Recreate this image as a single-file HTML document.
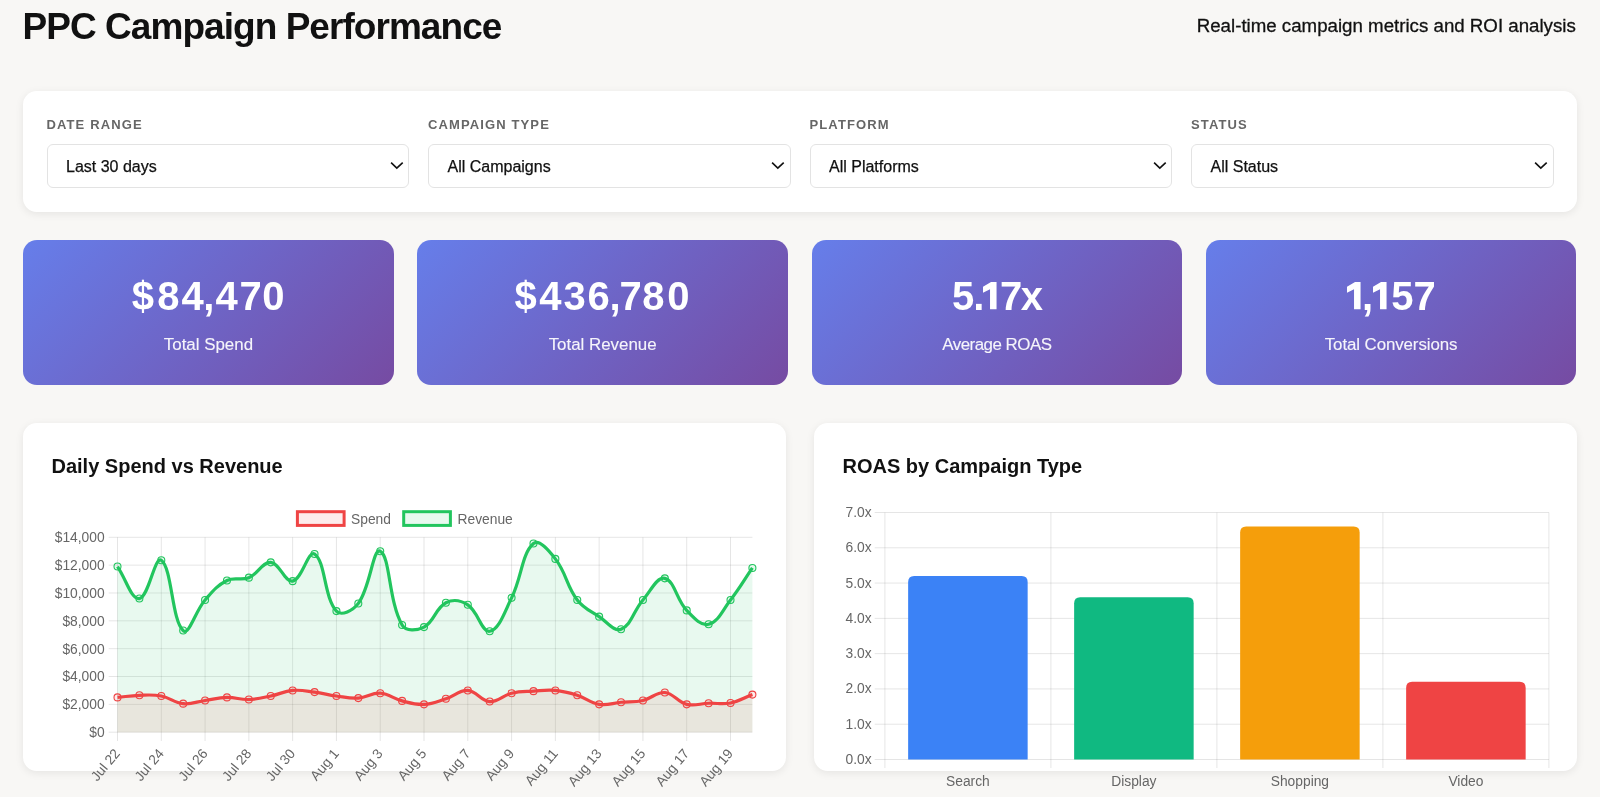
<!DOCTYPE html>
<html><head><meta charset="utf-8"><style>
*{box-sizing:border-box;margin:0;padding:0}
html,body{width:1600px;height:797px;overflow:hidden;background:#f8f7f5;font-family:"Liberation Sans",sans-serif;color:#111}
.abs{position:absolute}
h1{position:absolute;left:22.5px;top:7.7px;font-size:37px;line-height:37px;font-weight:700;letter-spacing:-0.95px;color:#111;white-space:nowrap}
.sub{position:absolute;right:24.2px;top:16.9px;font-size:18.7px;line-height:18.7px;color:#111;-webkit-text-stroke:0.3px #111;white-space:nowrap}
.card{position:absolute;background:#fff;border-radius:14px;box-shadow:0 2px 8px rgba(0,0,0,0.08)}
.flabel{position:absolute;top:118.4px;font-size:13px;line-height:13px;font-weight:700;letter-spacing:1.12px;color:#666;white-space:nowrap}
.sel{position:absolute;top:144px;width:362.5px;height:44px;border:1px solid #e3e3e3;border-radius:6px;background:#fff;font-size:16px;line-height:43px;padding-left:18.5px;color:#111;-webkit-text-stroke:0.25px #111}
.kpi{position:absolute;top:239.6px;width:370.5px;height:145.2px;border-radius:14px;background:linear-gradient(135deg,#667eea 0%,#764ba2 100%);color:#fff;text-align:center}
.kg{position:absolute;top:36.1px;font-size:40px;line-height:40px;font-weight:700}
.one{position:absolute;top:42.25px}
.kl{position:absolute;left:0;right:0;top:97.5px;font-size:16.9px;line-height:16.9px;color:rgba(255,255,255,0.93);-webkit-text-stroke:0.2px rgba(255,255,255,0.6)}
.ct{position:absolute;top:456px;font-size:20px;line-height:20px;font-weight:700;color:#111;white-space:nowrap}
.tk{font-family:"Liberation Sans",sans-serif;font-size:13.8px;fill:#666}
</style></head><body>
<div style="position:absolute;left:0;top:0;width:1600px;height:797px;will-change:transform">
<h1>PPC Campaign Performance</h1>
<div class="sub">Real-time campaign metrics and ROI analysis</div>
<div class="card" style="left:23.2px;top:90.5px;width:1553.6px;height:121px"></div>
<div class="flabel" style="left:46.5px">DATE RANGE</div><div class="sel" style="left:46.5px">Last 30 days<svg width="20" height="14" viewBox="0 0 20 14" style="position:absolute;left:340px;top:13px"><path d="M3.1,4.7 L8.8,10.2 L14.7,4.6" fill="none" stroke="#111" stroke-width="1.6"/></svg></div><div class="flabel" style="left:428.0px">CAMPAIGN TYPE</div><div class="sel" style="left:428.0px">All Campaigns<svg width="20" height="14" viewBox="0 0 20 14" style="position:absolute;left:340px;top:13px"><path d="M3.1,4.7 L8.8,10.2 L14.7,4.6" fill="none" stroke="#111" stroke-width="1.6"/></svg></div><div class="flabel" style="left:809.5px">PLATFORM</div><div class="sel" style="left:809.5px">All Platforms<svg width="20" height="14" viewBox="0 0 20 14" style="position:absolute;left:340px;top:13px"><path d="M3.1,4.7 L8.8,10.2 L14.7,4.6" fill="none" stroke="#111" stroke-width="1.6"/></svg></div><div class="flabel" style="left:1191.0px">STATUS</div><div class="sel" style="left:1191.0px">All Status<svg width="20" height="14" viewBox="0 0 20 14" style="position:absolute;left:340px;top:13px"><path d="M3.1,4.7 L8.8,10.2 L14.7,4.6" fill="none" stroke="#111" stroke-width="1.6"/></svg></div>
<div class="kpi" style="left:23.2px"><span class="kg" style="left:108.65px">$</span><span class="kg" style="left:133.96px">8</span><span class="kg" style="left:158.23px">4</span><span class="kg" style="left:180.17px">,</span><span class="kg" style="left:192.23px">4</span><span class="kg" style="left:216.40px">7</span><span class="kg" style="left:238.96px">0</span><div class="kl" style="letter-spacing:0px">Total Spend</div></div><div class="kpi" style="left:417.4px"><span class="kg" style="left:97.10px">$</span><span class="kg" style="left:121.88px">4</span><span class="kg" style="left:146.14px">3</span><span class="kg" style="left:170.12px">6</span><span class="kg" style="left:192.22px">,</span><span class="kg" style="left:202.15px">7</span><span class="kg" style="left:224.76px">8</span><span class="kg" style="left:249.81px">0</span><div class="kl" style="letter-spacing:0px">Total Revenue</div></div><div class="kpi" style="left:811.6px"><span class="kg" style="left:140.37px">5</span><span class="kg" style="left:161.76px">.</span><svg class="one" style="left:171.70px" width="14" height="28" viewBox="0 0 14 28"><polygon points="0,4.77 8.03,0 13.55,0 13.55,27.36 7.03,27.36 7.03,7.28 0,10.8" fill="#fff"/></svg><span class="kg" style="left:188.45px">7</span><span class="kg" style="left:209.24px">x</span><div class="kl" style="letter-spacing:-0.5px">Average ROAS</div></div><div class="kpi" style="left:1205.8px"><svg class="one" style="left:141.20px" width="14" height="28" viewBox="0 0 14 28"><polygon points="0,4.77 8.03,0 13.55,0 13.55,27.36 7.03,27.36 7.03,7.28 0,10.8" fill="#fff"/></svg><span class="kg" style="left:156.12px">,</span><svg class="one" style="left:166.90px" width="14" height="28" viewBox="0 0 14 28"><polygon points="0,4.77 8.03,0 13.55,0 13.55,27.36 7.03,27.36 7.03,7.28 0,10.8" fill="#fff"/></svg><span class="kg" style="left:185.42px">5</span><span class="kg" style="left:207.65px">7</span><div class="kl" style="letter-spacing:-0.1px">Total Conversions</div></div>
<div class="card" style="left:23.2px;top:422.8px;width:763px;height:348.6px"></div>
<div class="card" style="left:814px;top:422.8px;width:763px;height:348.6px"></div>
<div class="ct" style="left:51.5px">Daily Spend vs Revenue</div>
<div class="ct" style="left:842.5px">ROAS by Campaign Type</div>
<svg width="1600" height="797" style="position:absolute;left:0;top:0;overflow:visible"><line x1="108.7" y1="732.20" x2="752.4" y2="732.20" stroke="rgba(0,0,0,0.1)" stroke-width="1"/><text x="104.6" y="737.10" text-anchor="end" class="tk">$0</text><line x1="108.7" y1="704.36" x2="752.4" y2="704.36" stroke="rgba(0,0,0,0.1)" stroke-width="1"/><text x="104.6" y="709.26" text-anchor="end" class="tk">$2,000</text><line x1="108.7" y1="676.51" x2="752.4" y2="676.51" stroke="rgba(0,0,0,0.1)" stroke-width="1"/><text x="104.6" y="681.41" text-anchor="end" class="tk">$4,000</text><line x1="108.7" y1="648.67" x2="752.4" y2="648.67" stroke="rgba(0,0,0,0.1)" stroke-width="1"/><text x="104.6" y="653.57" text-anchor="end" class="tk">$6,000</text><line x1="108.7" y1="620.83" x2="752.4" y2="620.83" stroke="rgba(0,0,0,0.1)" stroke-width="1"/><text x="104.6" y="625.73" text-anchor="end" class="tk">$8,000</text><line x1="108.7" y1="592.99" x2="752.4" y2="592.99" stroke="rgba(0,0,0,0.1)" stroke-width="1"/><text x="104.6" y="597.89" text-anchor="end" class="tk">$10,000</text><line x1="108.7" y1="565.14" x2="752.4" y2="565.14" stroke="rgba(0,0,0,0.1)" stroke-width="1"/><text x="104.6" y="570.04" text-anchor="end" class="tk">$12,000</text><line x1="108.7" y1="537.30" x2="752.4" y2="537.30" stroke="rgba(0,0,0,0.1)" stroke-width="1"/><text x="104.6" y="542.20" text-anchor="end" class="tk">$14,000</text><line x1="117.50" y1="537.3" x2="117.50" y2="741" stroke="rgba(0,0,0,0.1)" stroke-width="1"/><line x1="161.29" y1="537.3" x2="161.29" y2="741" stroke="rgba(0,0,0,0.1)" stroke-width="1"/><line x1="205.07" y1="537.3" x2="205.07" y2="741" stroke="rgba(0,0,0,0.1)" stroke-width="1"/><line x1="248.86" y1="537.3" x2="248.86" y2="741" stroke="rgba(0,0,0,0.1)" stroke-width="1"/><line x1="292.64" y1="537.3" x2="292.64" y2="741" stroke="rgba(0,0,0,0.1)" stroke-width="1"/><line x1="336.43" y1="537.3" x2="336.43" y2="741" stroke="rgba(0,0,0,0.1)" stroke-width="1"/><line x1="380.22" y1="537.3" x2="380.22" y2="741" stroke="rgba(0,0,0,0.1)" stroke-width="1"/><line x1="424.00" y1="537.3" x2="424.00" y2="741" stroke="rgba(0,0,0,0.1)" stroke-width="1"/><line x1="467.79" y1="537.3" x2="467.79" y2="741" stroke="rgba(0,0,0,0.1)" stroke-width="1"/><line x1="511.58" y1="537.3" x2="511.58" y2="741" stroke="rgba(0,0,0,0.1)" stroke-width="1"/><line x1="555.36" y1="537.3" x2="555.36" y2="741" stroke="rgba(0,0,0,0.1)" stroke-width="1"/><line x1="599.15" y1="537.3" x2="599.15" y2="741" stroke="rgba(0,0,0,0.1)" stroke-width="1"/><line x1="642.93" y1="537.3" x2="642.93" y2="741" stroke="rgba(0,0,0,0.1)" stroke-width="1"/><line x1="686.72" y1="537.3" x2="686.72" y2="741" stroke="rgba(0,0,0,0.1)" stroke-width="1"/><line x1="730.51" y1="537.3" x2="730.51" y2="741" stroke="rgba(0,0,0,0.1)" stroke-width="1"/><text class="tk" text-anchor="end" transform="translate(120.80,753.8) rotate(-50)">Jul 22</text><text class="tk" text-anchor="end" transform="translate(164.59,753.8) rotate(-50)">Jul 24</text><text class="tk" text-anchor="end" transform="translate(208.37,753.8) rotate(-50)">Jul 26</text><text class="tk" text-anchor="end" transform="translate(252.16,753.8) rotate(-50)">Jul 28</text><text class="tk" text-anchor="end" transform="translate(295.94,753.8) rotate(-50)">Jul 30</text><text class="tk" text-anchor="end" transform="translate(339.73,753.8) rotate(-50)">Aug 1</text><text class="tk" text-anchor="end" transform="translate(383.52,753.8) rotate(-50)">Aug 3</text><text class="tk" text-anchor="end" transform="translate(427.30,753.8) rotate(-50)">Aug 5</text><text class="tk" text-anchor="end" transform="translate(471.09,753.8) rotate(-50)">Aug 7</text><text class="tk" text-anchor="end" transform="translate(514.88,753.8) rotate(-50)">Aug 9</text><text class="tk" text-anchor="end" transform="translate(558.66,753.8) rotate(-50)">Aug 11</text><text class="tk" text-anchor="end" transform="translate(602.45,753.8) rotate(-50)">Aug 13</text><text class="tk" text-anchor="end" transform="translate(646.23,753.8) rotate(-50)">Aug 15</text><text class="tk" text-anchor="end" transform="translate(690.02,753.8) rotate(-50)">Aug 17</text><text class="tk" text-anchor="end" transform="translate(733.81,753.8) rotate(-50)">Aug 19</text><path d="M117.50,566.53 C126.26,579.34 131.20,599.73 139.39,598.55 C148.71,597.22 154.73,555.47 161.29,560.27 C172.24,568.28 171.59,620.07 183.18,630.57 C189.10,635.94 195.22,611.22 205.07,599.95 C212.74,591.17 216.97,585.54 226.97,580.46 C234.49,576.63 240.94,580.95 248.86,577.67 C258.45,573.71 262.33,561.69 270.75,562.36 C279.85,563.08 284.72,582.67 292.64,581.15 C302.23,579.32 308.18,549.66 314.54,554.01 C325.69,561.63 323.73,596.75 336.43,611.08 C341.25,616.52 353.23,610.39 358.32,603.43 C370.75,586.44 372.79,547.56 380.22,551.22 C390.31,556.19 388.49,601.40 402.11,625.00 C406.00,631.75 416.97,630.67 424.00,627.09 C434.48,621.76 435.42,608.06 445.90,602.73 C452.93,599.15 460.95,600.36 467.79,604.82 C478.47,611.78 481.59,632.56 489.68,631.27 C499.10,629.77 504.47,612.09 511.58,597.86 C521.99,577.01 521.44,554.27 533.47,543.56 C538.96,538.68 548.97,550.65 555.36,558.88 C566.49,573.21 566.25,585.43 577.26,599.95 C583.77,608.54 590.01,610.55 599.15,616.65 C607.52,622.24 613.89,631.91 621.04,629.18 C631.40,625.23 633.42,610.98 642.93,599.95 C650.94,590.66 657.08,576.52 664.83,578.37 C674.60,580.70 676.23,599.38 686.72,610.39 C693.74,617.75 700.87,626.15 708.61,624.31 C718.39,621.98 722.49,610.27 730.51,599.95 C740.00,587.72 743.64,580.73 752.40,567.93 L752.4,732.2 L117.5,732.2 Z" fill="rgba(34,197,94,0.1)"/><path d="M117.50,566.53 C126.26,579.34 131.20,599.73 139.39,598.55 C148.71,597.22 154.73,555.47 161.29,560.27 C172.24,568.28 171.59,620.07 183.18,630.57 C189.10,635.94 195.22,611.22 205.07,599.95 C212.74,591.17 216.97,585.54 226.97,580.46 C234.49,576.63 240.94,580.95 248.86,577.67 C258.45,573.71 262.33,561.69 270.75,562.36 C279.85,563.08 284.72,582.67 292.64,581.15 C302.23,579.32 308.18,549.66 314.54,554.01 C325.69,561.63 323.73,596.75 336.43,611.08 C341.25,616.52 353.23,610.39 358.32,603.43 C370.75,586.44 372.79,547.56 380.22,551.22 C390.31,556.19 388.49,601.40 402.11,625.00 C406.00,631.75 416.97,630.67 424.00,627.09 C434.48,621.76 435.42,608.06 445.90,602.73 C452.93,599.15 460.95,600.36 467.79,604.82 C478.47,611.78 481.59,632.56 489.68,631.27 C499.10,629.77 504.47,612.09 511.58,597.86 C521.99,577.01 521.44,554.27 533.47,543.56 C538.96,538.68 548.97,550.65 555.36,558.88 C566.49,573.21 566.25,585.43 577.26,599.95 C583.77,608.54 590.01,610.55 599.15,616.65 C607.52,622.24 613.89,631.91 621.04,629.18 C631.40,625.23 633.42,610.98 642.93,599.95 C650.94,590.66 657.08,576.52 664.83,578.37 C674.60,580.70 676.23,599.38 686.72,610.39 C693.74,617.75 700.87,626.15 708.61,624.31 C718.39,621.98 722.49,610.27 730.51,599.95 C740.00,587.72 743.64,580.73 752.40,567.93" fill="none" stroke="#22c55e" stroke-width="3.2" stroke-linejoin="round"/><circle cx="117.50" cy="566.53" r="3.5" fill="rgba(34,197,94,0.1)" stroke="#22c55e" stroke-width="1.1"/><circle cx="139.39" cy="598.55" r="3.5" fill="rgba(34,197,94,0.1)" stroke="#22c55e" stroke-width="1.1"/><circle cx="161.29" cy="560.27" r="3.5" fill="rgba(34,197,94,0.1)" stroke="#22c55e" stroke-width="1.1"/><circle cx="183.18" cy="630.57" r="3.5" fill="rgba(34,197,94,0.1)" stroke="#22c55e" stroke-width="1.1"/><circle cx="205.07" cy="599.95" r="3.5" fill="rgba(34,197,94,0.1)" stroke="#22c55e" stroke-width="1.1"/><circle cx="226.97" cy="580.46" r="3.5" fill="rgba(34,197,94,0.1)" stroke="#22c55e" stroke-width="1.1"/><circle cx="248.86" cy="577.67" r="3.5" fill="rgba(34,197,94,0.1)" stroke="#22c55e" stroke-width="1.1"/><circle cx="270.75" cy="562.36" r="3.5" fill="rgba(34,197,94,0.1)" stroke="#22c55e" stroke-width="1.1"/><circle cx="292.64" cy="581.15" r="3.5" fill="rgba(34,197,94,0.1)" stroke="#22c55e" stroke-width="1.1"/><circle cx="314.54" cy="554.01" r="3.5" fill="rgba(34,197,94,0.1)" stroke="#22c55e" stroke-width="1.1"/><circle cx="336.43" cy="611.08" r="3.5" fill="rgba(34,197,94,0.1)" stroke="#22c55e" stroke-width="1.1"/><circle cx="358.32" cy="603.43" r="3.5" fill="rgba(34,197,94,0.1)" stroke="#22c55e" stroke-width="1.1"/><circle cx="380.22" cy="551.22" r="3.5" fill="rgba(34,197,94,0.1)" stroke="#22c55e" stroke-width="1.1"/><circle cx="402.11" cy="625.00" r="3.5" fill="rgba(34,197,94,0.1)" stroke="#22c55e" stroke-width="1.1"/><circle cx="424.00" cy="627.09" r="3.5" fill="rgba(34,197,94,0.1)" stroke="#22c55e" stroke-width="1.1"/><circle cx="445.90" cy="602.73" r="3.5" fill="rgba(34,197,94,0.1)" stroke="#22c55e" stroke-width="1.1"/><circle cx="467.79" cy="604.82" r="3.5" fill="rgba(34,197,94,0.1)" stroke="#22c55e" stroke-width="1.1"/><circle cx="489.68" cy="631.27" r="3.5" fill="rgba(34,197,94,0.1)" stroke="#22c55e" stroke-width="1.1"/><circle cx="511.58" cy="597.86" r="3.5" fill="rgba(34,197,94,0.1)" stroke="#22c55e" stroke-width="1.1"/><circle cx="533.47" cy="543.56" r="3.5" fill="rgba(34,197,94,0.1)" stroke="#22c55e" stroke-width="1.1"/><circle cx="555.36" cy="558.88" r="3.5" fill="rgba(34,197,94,0.1)" stroke="#22c55e" stroke-width="1.1"/><circle cx="577.26" cy="599.95" r="3.5" fill="rgba(34,197,94,0.1)" stroke="#22c55e" stroke-width="1.1"/><circle cx="599.15" cy="616.65" r="3.5" fill="rgba(34,197,94,0.1)" stroke="#22c55e" stroke-width="1.1"/><circle cx="621.04" cy="629.18" r="3.5" fill="rgba(34,197,94,0.1)" stroke="#22c55e" stroke-width="1.1"/><circle cx="642.93" cy="599.95" r="3.5" fill="rgba(34,197,94,0.1)" stroke="#22c55e" stroke-width="1.1"/><circle cx="664.83" cy="578.37" r="3.5" fill="rgba(34,197,94,0.1)" stroke="#22c55e" stroke-width="1.1"/><circle cx="686.72" cy="610.39" r="3.5" fill="rgba(34,197,94,0.1)" stroke="#22c55e" stroke-width="1.1"/><circle cx="708.61" cy="624.31" r="3.5" fill="rgba(34,197,94,0.1)" stroke="#22c55e" stroke-width="1.1"/><circle cx="730.51" cy="599.95" r="3.5" fill="rgba(34,197,94,0.1)" stroke="#22c55e" stroke-width="1.1"/><circle cx="752.40" cy="567.93" r="3.5" fill="rgba(34,197,94,0.1)" stroke="#22c55e" stroke-width="1.1"/><path d="M117.50,697.40 C126.26,696.56 130.62,695.59 139.39,695.31 C148.13,695.03 152.78,694.38 161.29,696.00 C170.29,697.72 174.22,702.75 183.18,703.66 C191.73,704.53 196.31,701.71 205.07,700.46 C213.83,699.21 218.19,697.59 226.97,697.40 C235.70,697.20 240.14,699.76 248.86,699.48 C257.65,699.21 262.08,697.80 270.75,696.00 C279.59,694.18 283.76,691.23 292.64,690.44 C301.28,689.67 305.84,691.00 314.54,692.11 C323.35,693.23 327.63,694.80 336.43,696.00 C345.14,697.19 349.65,698.64 358.32,698.09 C367.17,697.53 371.61,692.67 380.22,693.22 C389.12,693.79 393.16,698.60 402.11,700.88 C410.67,703.05 415.33,704.77 424.00,704.36 C432.84,703.94 437.30,701.52 445.90,698.79 C454.81,695.95 459.24,689.89 467.79,690.44 C476.75,691.01 480.72,701.00 489.68,701.57 C498.23,702.12 502.54,695.37 511.58,693.22 C520.06,691.20 524.69,691.69 533.47,691.13 C542.21,690.58 546.71,689.61 555.36,690.44 C564.22,691.28 568.74,692.60 577.26,695.31 C586.25,698.17 590.07,702.91 599.15,704.36 C607.58,705.70 612.28,703.05 621.04,702.27 C629.79,701.49 634.43,702.35 642.93,700.46 C651.95,698.45 656.36,691.77 664.83,692.52 C673.88,693.33 677.41,702.08 686.72,704.36 C694.92,706.37 699.85,703.52 708.61,703.24 C717.37,702.97 722.05,704.63 730.51,702.97 C739.56,701.18 743.64,697.95 752.40,694.61 L752.4,732.2 L117.5,732.2 Z" fill="rgba(239,68,68,0.1)"/><path d="M117.50,697.40 C126.26,696.56 130.62,695.59 139.39,695.31 C148.13,695.03 152.78,694.38 161.29,696.00 C170.29,697.72 174.22,702.75 183.18,703.66 C191.73,704.53 196.31,701.71 205.07,700.46 C213.83,699.21 218.19,697.59 226.97,697.40 C235.70,697.20 240.14,699.76 248.86,699.48 C257.65,699.21 262.08,697.80 270.75,696.00 C279.59,694.18 283.76,691.23 292.64,690.44 C301.28,689.67 305.84,691.00 314.54,692.11 C323.35,693.23 327.63,694.80 336.43,696.00 C345.14,697.19 349.65,698.64 358.32,698.09 C367.17,697.53 371.61,692.67 380.22,693.22 C389.12,693.79 393.16,698.60 402.11,700.88 C410.67,703.05 415.33,704.77 424.00,704.36 C432.84,703.94 437.30,701.52 445.90,698.79 C454.81,695.95 459.24,689.89 467.79,690.44 C476.75,691.01 480.72,701.00 489.68,701.57 C498.23,702.12 502.54,695.37 511.58,693.22 C520.06,691.20 524.69,691.69 533.47,691.13 C542.21,690.58 546.71,689.61 555.36,690.44 C564.22,691.28 568.74,692.60 577.26,695.31 C586.25,698.17 590.07,702.91 599.15,704.36 C607.58,705.70 612.28,703.05 621.04,702.27 C629.79,701.49 634.43,702.35 642.93,700.46 C651.95,698.45 656.36,691.77 664.83,692.52 C673.88,693.33 677.41,702.08 686.72,704.36 C694.92,706.37 699.85,703.52 708.61,703.24 C717.37,702.97 722.05,704.63 730.51,702.97 C739.56,701.18 743.64,697.95 752.40,694.61" fill="none" stroke="#ef4444" stroke-width="3.2" stroke-linejoin="round"/><circle cx="117.50" cy="697.40" r="3.5" fill="rgba(239,68,68,0.1)" stroke="#ef4444" stroke-width="1.1"/><circle cx="139.39" cy="695.31" r="3.5" fill="rgba(239,68,68,0.1)" stroke="#ef4444" stroke-width="1.1"/><circle cx="161.29" cy="696.00" r="3.5" fill="rgba(239,68,68,0.1)" stroke="#ef4444" stroke-width="1.1"/><circle cx="183.18" cy="703.66" r="3.5" fill="rgba(239,68,68,0.1)" stroke="#ef4444" stroke-width="1.1"/><circle cx="205.07" cy="700.46" r="3.5" fill="rgba(239,68,68,0.1)" stroke="#ef4444" stroke-width="1.1"/><circle cx="226.97" cy="697.40" r="3.5" fill="rgba(239,68,68,0.1)" stroke="#ef4444" stroke-width="1.1"/><circle cx="248.86" cy="699.48" r="3.5" fill="rgba(239,68,68,0.1)" stroke="#ef4444" stroke-width="1.1"/><circle cx="270.75" cy="696.00" r="3.5" fill="rgba(239,68,68,0.1)" stroke="#ef4444" stroke-width="1.1"/><circle cx="292.64" cy="690.44" r="3.5" fill="rgba(239,68,68,0.1)" stroke="#ef4444" stroke-width="1.1"/><circle cx="314.54" cy="692.11" r="3.5" fill="rgba(239,68,68,0.1)" stroke="#ef4444" stroke-width="1.1"/><circle cx="336.43" cy="696.00" r="3.5" fill="rgba(239,68,68,0.1)" stroke="#ef4444" stroke-width="1.1"/><circle cx="358.32" cy="698.09" r="3.5" fill="rgba(239,68,68,0.1)" stroke="#ef4444" stroke-width="1.1"/><circle cx="380.22" cy="693.22" r="3.5" fill="rgba(239,68,68,0.1)" stroke="#ef4444" stroke-width="1.1"/><circle cx="402.11" cy="700.88" r="3.5" fill="rgba(239,68,68,0.1)" stroke="#ef4444" stroke-width="1.1"/><circle cx="424.00" cy="704.36" r="3.5" fill="rgba(239,68,68,0.1)" stroke="#ef4444" stroke-width="1.1"/><circle cx="445.90" cy="698.79" r="3.5" fill="rgba(239,68,68,0.1)" stroke="#ef4444" stroke-width="1.1"/><circle cx="467.79" cy="690.44" r="3.5" fill="rgba(239,68,68,0.1)" stroke="#ef4444" stroke-width="1.1"/><circle cx="489.68" cy="701.57" r="3.5" fill="rgba(239,68,68,0.1)" stroke="#ef4444" stroke-width="1.1"/><circle cx="511.58" cy="693.22" r="3.5" fill="rgba(239,68,68,0.1)" stroke="#ef4444" stroke-width="1.1"/><circle cx="533.47" cy="691.13" r="3.5" fill="rgba(239,68,68,0.1)" stroke="#ef4444" stroke-width="1.1"/><circle cx="555.36" cy="690.44" r="3.5" fill="rgba(239,68,68,0.1)" stroke="#ef4444" stroke-width="1.1"/><circle cx="577.26" cy="695.31" r="3.5" fill="rgba(239,68,68,0.1)" stroke="#ef4444" stroke-width="1.1"/><circle cx="599.15" cy="704.36" r="3.5" fill="rgba(239,68,68,0.1)" stroke="#ef4444" stroke-width="1.1"/><circle cx="621.04" cy="702.27" r="3.5" fill="rgba(239,68,68,0.1)" stroke="#ef4444" stroke-width="1.1"/><circle cx="642.93" cy="700.46" r="3.5" fill="rgba(239,68,68,0.1)" stroke="#ef4444" stroke-width="1.1"/><circle cx="664.83" cy="692.52" r="3.5" fill="rgba(239,68,68,0.1)" stroke="#ef4444" stroke-width="1.1"/><circle cx="686.72" cy="704.36" r="3.5" fill="rgba(239,68,68,0.1)" stroke="#ef4444" stroke-width="1.1"/><circle cx="708.61" cy="703.24" r="3.5" fill="rgba(239,68,68,0.1)" stroke="#ef4444" stroke-width="1.1"/><circle cx="730.51" cy="702.97" r="3.5" fill="rgba(239,68,68,0.1)" stroke="#ef4444" stroke-width="1.1"/><circle cx="752.40" cy="694.61" r="3.5" fill="rgba(239,68,68,0.1)" stroke="#ef4444" stroke-width="1.1"/><rect x="297.4" y="511.7" width="46.7" height="13.7" fill="rgba(239,68,68,0.1)" stroke="#ef4444" stroke-width="3"/><text x="351" y="523.5" class="tk">Spend</text><rect x="403.7" y="511.7" width="46.7" height="13.7" fill="rgba(34,197,94,0.1)" stroke="#22c55e" stroke-width="3"/><text x="457.5" y="523.5" class="tk">Revenue</text></svg>
<svg width="1600" height="797" style="position:absolute;left:0;top:0;overflow:visible"><line x1="874.7" y1="759.50" x2="1548.9" y2="759.50" stroke="rgba(0,0,0,0.1)" stroke-width="1"/><text x="871.7" y="764.00" text-anchor="end" class="tk">0.0x</text><line x1="874.7" y1="724.21" x2="1548.9" y2="724.21" stroke="rgba(0,0,0,0.1)" stroke-width="1"/><text x="871.7" y="728.71" text-anchor="end" class="tk">1.0x</text><line x1="874.7" y1="688.93" x2="1548.9" y2="688.93" stroke="rgba(0,0,0,0.1)" stroke-width="1"/><text x="871.7" y="693.43" text-anchor="end" class="tk">2.0x</text><line x1="874.7" y1="653.64" x2="1548.9" y2="653.64" stroke="rgba(0,0,0,0.1)" stroke-width="1"/><text x="871.7" y="658.14" text-anchor="end" class="tk">3.0x</text><line x1="874.7" y1="618.36" x2="1548.9" y2="618.36" stroke="rgba(0,0,0,0.1)" stroke-width="1"/><text x="871.7" y="622.86" text-anchor="end" class="tk">4.0x</text><line x1="874.7" y1="583.07" x2="1548.9" y2="583.07" stroke="rgba(0,0,0,0.1)" stroke-width="1"/><text x="871.7" y="587.57" text-anchor="end" class="tk">5.0x</text><line x1="874.7" y1="547.79" x2="1548.9" y2="547.79" stroke="rgba(0,0,0,0.1)" stroke-width="1"/><text x="871.7" y="552.29" text-anchor="end" class="tk">6.0x</text><line x1="874.7" y1="512.50" x2="1548.9" y2="512.50" stroke="rgba(0,0,0,0.1)" stroke-width="1"/><text x="871.7" y="517.00" text-anchor="end" class="tk">7.0x</text><line x1="884.90" y1="512.5" x2="884.90" y2="768" stroke="rgba(0,0,0,0.1)" stroke-width="1"/><line x1="1050.90" y1="512.5" x2="1050.90" y2="768" stroke="rgba(0,0,0,0.1)" stroke-width="1"/><line x1="1216.90" y1="512.5" x2="1216.90" y2="768" stroke="rgba(0,0,0,0.1)" stroke-width="1"/><line x1="1382.90" y1="512.5" x2="1382.90" y2="768" stroke="rgba(0,0,0,0.1)" stroke-width="1"/><line x1="1548.90" y1="512.5" x2="1548.90" y2="768" stroke="rgba(0,0,0,0.1)" stroke-width="1"/><path d="M908.14,759.5 L908.14,582.01 Q908.14,576.01 914.14,576.01 L1021.66,576.01 Q1027.66,576.01 1027.66,582.01 L1027.66,759.5 Z" fill="#3b82f6"/><text x="967.90" y="786.2" text-anchor="middle" class="tk">Search</text><path d="M1074.14,759.5 L1074.14,603.19 Q1074.14,597.19 1080.14,597.19 L1187.66,597.19 Q1193.66,597.19 1193.66,603.19 L1193.66,759.5 Z" fill="#10b981"/><text x="1133.90" y="786.2" text-anchor="middle" class="tk">Display</text><path d="M1240.14,759.5 L1240.14,532.61 Q1240.14,526.61 1246.14,526.61 L1353.66,526.61 Q1359.66,526.61 1359.66,532.61 L1359.66,759.5 Z" fill="#f59e0b"/><text x="1299.90" y="786.2" text-anchor="middle" class="tk">Shopping</text><path d="M1406.14,759.5 L1406.14,687.87 Q1406.14,681.87 1412.14,681.87 L1519.66,681.87 Q1525.66,681.87 1525.66,687.87 L1525.66,759.5 Z" fill="#ef4444"/><text x="1465.90" y="786.2" text-anchor="middle" class="tk">Video</text></svg>
</div>
</body></html>
